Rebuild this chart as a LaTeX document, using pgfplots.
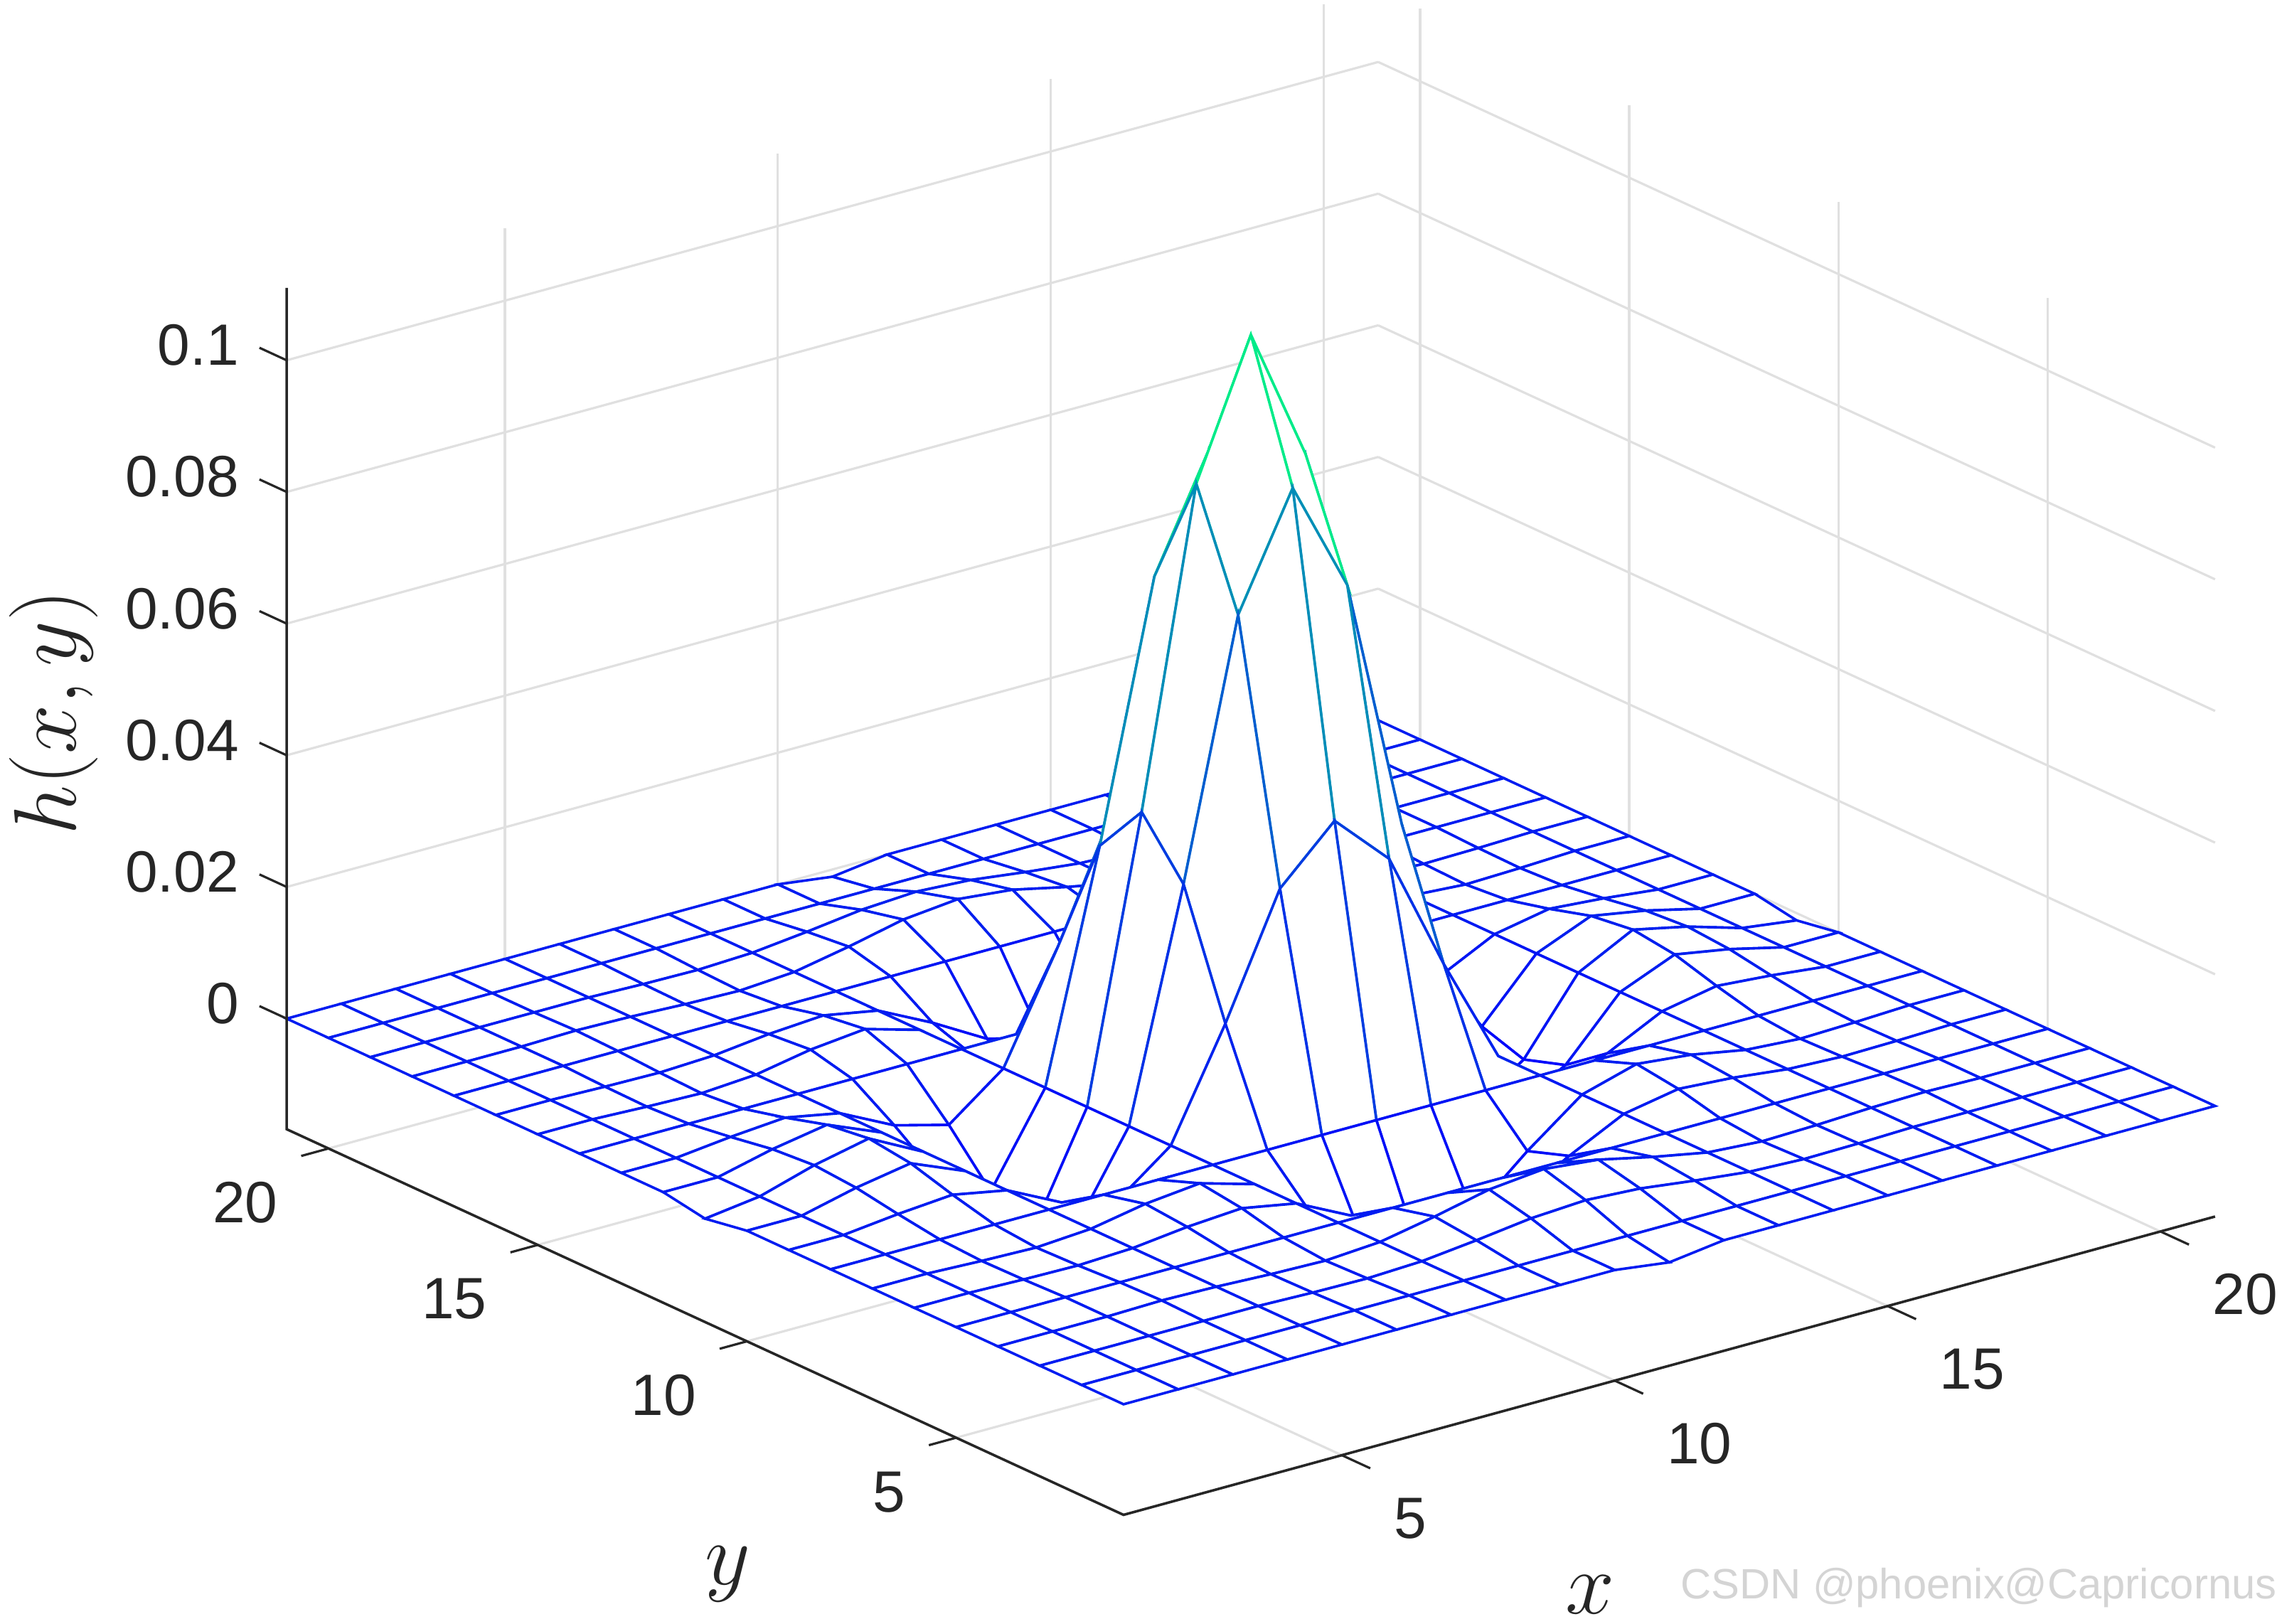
\documentclass[border=0pt]{standalone}
\usepackage{fontspec}
\setmainfont{Liberation Sans}
\usepackage{pgfplots}
\pgfplotsset{compat=1.18}
\usetikzlibrary{calc}
\definecolor{axcol}{rgb}{0.15,0.15,0.15}

\begin{document}
\begin{tikzpicture}
\begin{axis}[
  x={(0.375cm,0.1025cm)},
  y={(-0.2875cm,0.1325cm)},
  z={(0cm,45.24cm)},
  xmin=1,xmax=21,ymin=1,ymax=21,zmin=-0.0168,zmax=0.111,
  clip=false,
  xtick={5,10,15,20},ytick={5,10,15,20},
  ztick={0,0.02,0.04,0.06,0.08,0.1},
  xticklabels={5,10,15,20},yticklabels={5,10,15,20},
  zticklabels={0,0.02,0.04,0.06,0.08,0.1},
  tick label style={font=\fontsize{11.4}{12}\selectfont,text=axcol,inner sep=0pt},
  xticklabel style={anchor=west,xshift=0.17cm,yshift=-0.35cm},
  yticklabel style={anchor=east,xshift=-0.15cm,yshift=-0.32cm},
  zticklabel style={anchor=east,xshift=-0.14cm,yshift=0.02cm},
  tickpos=left,
  tick align=outside,
  major tick length=0.2cm,
  tick style={draw=none},
  grid=major,
  major grid style={draw=black!12,line width=0.45pt},
  axis line style={draw=none},
  colormap={winter}{rgb=(0,0,1) rgb=(0,0.14,0.93) rgb=(0,0.28,0.86) rgb=(0,0.42,0.79) rgb=(0,0.655,0.67) rgb=(0,1,0.5)},
  point meta min=-0.0168,point meta max=0.091,
  xlabel={$x$},ylabel={$y$},zlabel={$h(x,y)$},
  label style={font=\fontsize{16.2}{17}\selectfont,text=axcol},
  xlabel style={at={(axis cs:4.37,-5.75,-0.0168)},anchor=center},
  ylabel style={at={(axis cs:-5.03,2.59,-0.0168)},anchor=center},
  zlabel style={at={(axis cs:1,21,0.0465)},anchor=center,yshift=1.6cm},
]
\addplot3[surf,shader=faceted,fill=white,faceted color=mapped color,line width=0.5pt,mesh/rows=21,mesh/cols=21,z buffer=reverse xy seq]
coordinates {
(1,1,0)(2,1,0)(3,1,0)(4,1,0)(5,1,0)(6,1,0)(7,1,0)(8,1,0)(9,1,0)(10,1,0)(11,1,-0.0011)(12,1,0)(13,1,0)(14,1,0)(15,1,0)(16,1,0)(17,1,0)(18,1,0)(19,1,0)(20,1,0)(21,1,0)
(1,2,0)(2,2,0)(3,2,0)(4,2,0)(5,2,0)(6,2,0)(7,2,0)(8,2,0)(9,2,0)(10,2,0)(11,2,0)(12,2,0)(13,2,0)(14,2,0)(15,2,0)(16,2,0)(17,2,0)(18,2,0)(19,2,0)(20,2,0)(21,2,0)
(1,3,0)(2,3,0)(3,3,0)(4,3,0)(5,3,0)(6,3,-0.00023)(7,3,-0.00034)(8,3,0)(9,3,0.00092)(10,3,0.00199)(11,3,0.00248)(12,3,0.00199)(13,3,0.00092)(14,3,0)(15,3,-0.00034)(16,3,-0.00023)(17,3,0)(18,3,0)(19,3,0)(20,3,0)(21,3,0)
(1,4,0)(2,4,0)(3,4,0)(4,4,0.00018)(5,4,0)(6,4,-0.00036)(7,4,-0.00057)(8,4,0)(9,4,0.00159)(10,4,0.00344)(11,4,0.00428)(12,4,0.00344)(13,4,0.00159)(14,4,0)(15,4,-0.00057)(16,4,-0.00036)(17,4,0)(18,4,0.00018)(19,4,0)(20,4,0)(21,4,0)
(1,5,0)(2,5,0)(3,5,0)(4,5,0)(5,5,0)(6,5,0)(7,5,0)(8,5,0)(9,5,0)(10,5,0)(11,5,0)(12,5,0)(13,5,0)(14,5,0)(15,5,0)(16,5,0)(17,5,0)(18,5,0)(19,5,0)(20,5,0)(21,5,0)
(1,6,0)(2,6,0)(3,6,-0.00023)(4,6,-0.00036)(5,6,0)(6,6,0.00096)(7,6,0.00153)(8,6,0)(9,6,-0.00411)(10,6,-0.00882)(11,6,-0.01091)(12,6,-0.00882)(13,6,-0.00411)(14,6,0)(15,6,0.00153)(16,6,0.00096)(17,6,0)(18,6,-0.00036)(19,6,-0.00023)(20,6,0)(21,6,0)
(1,7,0)(2,7,0)(3,7,-0.00034)(4,7,-0.00057)(5,7,0)(6,7,0.00153)(7,7,0.00239)(8,7,0)(9,7,-0.00631)(10,7,-0.01347)(11,7,-0.01665)(12,7,-0.01347)(13,7,-0.00631)(14,7,0)(15,7,0.00239)(16,7,0.00153)(17,7,0)(18,7,-0.00057)(19,7,-0.00034)(20,7,0)(21,7,0)
(1,8,0)(2,8,0)(3,8,0)(4,8,0)(5,8,0)(6,8,0)(7,8,0)(8,8,0)(9,8,0)(10,8,0)(11,8,0)(12,8,0)(13,8,0)(14,8,0)(15,8,0)(16,8,0)(17,8,0)(18,8,0)(19,8,0)(20,8,0)(21,8,0)
(1,9,0)(2,9,0)(3,9,0.00092)(4,9,0.00159)(5,9,0)(6,9,-0.00411)(7,9,-0.00631)(8,9,0)(9,9,0.01625)(10,9,0.0345)(11,9,0.04254)(12,9,0.0345)(13,9,0.01625)(14,9,0)(15,9,-0.00631)(16,9,-0.00411)(17,9,0)(18,9,0.00159)(19,9,0.00092)(20,9,0)(21,9,0)
(1,10,0)(2,10,0)(3,10,0.00199)(4,10,0.00344)(5,10,0)(6,10,-0.00882)(7,10,-0.01347)(8,10,0)(9,10,0.0345)(10,10,0.07314)(11,10,0.09016)(12,10,0.07314)(13,10,0.0345)(14,10,0)(15,10,-0.01347)(16,10,-0.00882)(17,10,0)(18,10,0.00344)(19,10,0.00199)(20,10,0)(21,10,0)
(1,11,-0.0011)(2,11,0)(3,11,0.00248)(4,11,0.00428)(5,11,0)(6,11,-0.01091)(7,11,-0.01665)(8,11,0)(9,11,0.04254)(10,11,0.09016)(11,11,0.1105)(12,11,0.09016)(13,11,0.04254)(14,11,0)(15,11,-0.01665)(16,11,-0.01091)(17,11,0)(18,11,0.00428)(19,11,0.00248)(20,11,0)(21,11,-0.0011)
(1,12,0)(2,12,0)(3,12,0.00199)(4,12,0.00344)(5,12,0)(6,12,-0.00882)(7,12,-0.01347)(8,12,0)(9,12,0.0345)(10,12,0.07314)(11,12,0.09016)(12,12,0.07314)(13,12,0.0345)(14,12,0)(15,12,-0.01347)(16,12,-0.00882)(17,12,0)(18,12,0.00344)(19,12,0.00199)(20,12,0)(21,12,0)
(1,13,0)(2,13,0)(3,13,0.00092)(4,13,0.00159)(5,13,0)(6,13,-0.00411)(7,13,-0.00631)(8,13,0)(9,13,0.01625)(10,13,0.0345)(11,13,0.04254)(12,13,0.0345)(13,13,0.01625)(14,13,0)(15,13,-0.00631)(16,13,-0.00411)(17,13,0)(18,13,0.00159)(19,13,0.00092)(20,13,0)(21,13,0)
(1,14,0)(2,14,0)(3,14,0)(4,14,0)(5,14,0)(6,14,0)(7,14,0)(8,14,0)(9,14,0)(10,14,0)(11,14,0)(12,14,0)(13,14,0)(14,14,0)(15,14,0)(16,14,0)(17,14,0)(18,14,0)(19,14,0)(20,14,0)(21,14,0)
(1,15,0)(2,15,0)(3,15,-0.00034)(4,15,-0.00057)(5,15,0)(6,15,0.00153)(7,15,0.00239)(8,15,0)(9,15,-0.00631)(10,15,-0.01347)(11,15,-0.01665)(12,15,-0.01347)(13,15,-0.00631)(14,15,0)(15,15,0.00239)(16,15,0.00153)(17,15,0)(18,15,-0.00057)(19,15,-0.00034)(20,15,0)(21,15,0)
(1,16,0)(2,16,0)(3,16,-0.00023)(4,16,-0.00036)(5,16,0)(6,16,0.00096)(7,16,0.00153)(8,16,0)(9,16,-0.00411)(10,16,-0.00882)(11,16,-0.01091)(12,16,-0.00882)(13,16,-0.00411)(14,16,0)(15,16,0.00153)(16,16,0.00096)(17,16,0)(18,16,-0.00036)(19,16,-0.00023)(20,16,0)(21,16,0)
(1,17,0)(2,17,0)(3,17,0)(4,17,0)(5,17,0)(6,17,0)(7,17,0)(8,17,0)(9,17,0)(10,17,0)(11,17,0)(12,17,0)(13,17,0)(14,17,0)(15,17,0)(16,17,0)(17,17,0)(18,17,0)(19,17,0)(20,17,0)(21,17,0)
(1,18,0)(2,18,0)(3,18,0)(4,18,0.00018)(5,18,0)(6,18,-0.00036)(7,18,-0.00057)(8,18,0)(9,18,0.00159)(10,18,0.00344)(11,18,0.00428)(12,18,0.00344)(13,18,0.00159)(14,18,0)(15,18,-0.00057)(16,18,-0.00036)(17,18,0)(18,18,0.00018)(19,18,0)(20,18,0)(21,18,0)
(1,19,0)(2,19,0)(3,19,0)(4,19,0)(5,19,0)(6,19,-0.00023)(7,19,-0.00034)(8,19,0)(9,19,0.00092)(10,19,0.00199)(11,19,0.00248)(12,19,0.00199)(13,19,0.00092)(14,19,0)(15,19,-0.00034)(16,19,-0.00023)(17,19,0)(18,19,0)(19,19,0)(20,19,0)(21,19,0)
(1,20,0)(2,20,0)(3,20,0)(4,20,0)(5,20,0)(6,20,0)(7,20,0)(8,20,0)(9,20,0)(10,20,0)(11,20,0)(12,20,0)(13,20,0)(14,20,0)(15,20,0)(16,20,0)(17,20,0)(18,20,0)(19,20,0)(20,20,0)(21,20,0)
(1,21,0)(2,21,0)(3,21,0)(4,21,0)(5,21,0)(6,21,0)(7,21,0)(8,21,0)(9,21,0)(10,21,0)(11,21,-0.0011)(12,21,0)(13,21,0)(14,21,0)(15,21,0)(16,21,0)(17,21,0)(18,21,0)(19,21,0)(20,21,0)(21,21,0)
};
\coordinate (A) at (axis cs:1,1,-0.0168);
% axis lines and ticks, only on the near edges
\draw[axcol,line width=0.5pt] (axis cs:1,21,0.111) -- (axis cs:1,21,-0.0168) -- (axis cs:1,1,-0.0168) -- (axis cs:21,1,-0.0168);
\pgfplotsinvokeforeach{5,10,15,20}{
  \draw[axcol,line width=0.45pt] (axis cs:#1,1,-0.0168) -- (axis cs:#1,0.32,-0.0168);
  \draw[axcol,line width=0.45pt] (axis cs:1,#1,-0.0168) -- (axis cs:0.5,#1,-0.0168);
}
\pgfplotsinvokeforeach{0,0.02,0.04,0.06,0.08,0.1}{
  \draw[axcol,line width=0.45pt] (axis cs:1,21,#1) -- (axis cs:1,21.65,#1);
}
\end{axis}
\node[text=black!17,font=\fontsize{8.3}{9}\selectfont,anchor=east,inner sep=0pt] at ($(A)+(7.93,-0.5)$) {CSDN @phoenix@Capricornus};
\pgfresetboundingbox
\path[use as bounding box] ($(A)+(-7.72,-0.75)$) rectangle ($(A)+(7.96,10.41)$);
\end{tikzpicture}
\end{document}
